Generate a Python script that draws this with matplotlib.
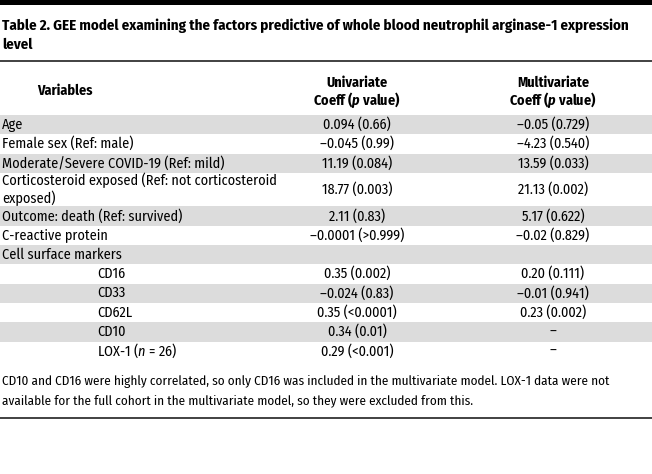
import matplotlib
matplotlib.use("Agg")
import matplotlib.pyplot as plt

W, H = 652, 474
FONT = "Fira Sans Condensed"

title_lines = [
    "Table 2. GEE model examining the factors predictive of whole blood neutrophil arginase-1 expression",
    "level",
]
header_var = "Variables"
header_uni = ["Univariate", "Coeff ($\\mathbfit{p}$ value)"]
header_multi = ["Multivariate", "Coeff ($\\mathbfit{p}$ value)"]

variables = [
    "Age",
    "Female sex (Ref: male)",
    "Moderate/Severe COVID-19 (Ref: mild)",
    "Corticosteroid exposed (Ref: not corticosteroid\nexposed)",
    "Outcome: death (Ref: survived)",
    "C-reactive protein",
    "Cell surface markers",
    "CD16",
    "CD33",
    "CD62L",
    "CD10",
    "LOX-1 ($\\mathit{n}$ = 26)",
]
indented = [False] * 7 + [True] * 5
univariate = [
    "0.094 (0.66)", "\u20130.045 (0.99)", "11.19 (0.084)", "18.77 (0.003)",
    "2.11 (0.83)", "\u20130.0001 (>0.999)", "", "0.35 (0.002)",
    "\u20130.024 (0.83)", "0.35 (<0.0001)", "0.34 (0.01)", "0.29 (<0.001)",
]
multivariate = [
    "\u20130.05 (0.729)", "\u20134.23 (0.540)", "13.59 (0.033)", "21.13 (0.002)",
    "5.17 (0.622)", "\u20130.02 (0.829)", "", "0.20 (0.111)",
    "\u20130.01 (0.941)", "0.23 (0.002)", "\u2013", "\u2013",
]
footnote = [
    "CD10 and CD16 were highly correlated, so only CD16 was included in the multivariate model. LOX-1 data were not",
    "available for the full cohort in the multivariate model, so they were excluded from this.",
]

plt.rcParams["font.family"] = [FONT, "DejaVu Sans"]
plt.rcParams["mathtext.fontset"] = "custom"
plt.rcParams["mathtext.rm"] = FONT
plt.rcParams["mathtext.it"] = f"{FONT}:italic"
plt.rcParams["mathtext.bf"] = f"{FONT}:bold"
plt.rcParams["mathtext.bfit"] = f"{FONT}:italic:bold"

fig = plt.figure(figsize=(W / 100, H / 100), dpi=100)
ax = fig.add_axes([0, 0, 1, 1])
ax.set_xlim(0, W)
ax.set_ylim(H, 0)
ax.axis("off")
renderer = fig.canvas.get_renderer()


def fit_size(text, width, **kw):
    t = ax.text(0, 0, text, fontsize=10, **kw)
    w = t.get_window_extent(renderer).width
    t.remove()
    return 10 * width / w


title_fs = fit_size(title_lines[0], 628, fontweight="bold")
body_fs = fit_size("Corticosteroid exposed (Ref: not corticosteroid", 273)
foot_fs = fit_size(footnote[0], 605)

# rules
ax.axhspan(0, 4.5, color="black", lw=0)
ax.axhline(61, color="#333333", lw=1.3)
ax.axhline(418, color="#333333", lw=1.3)

# title
for i, line in enumerate(title_lines):
    ax.text(2, 26 + i * 19, line, fontsize=title_fs, fontweight="bold", va="center", ha="left")

# header
x_var, x_uni, x_multi = 65, 357, 553
ax.text(x_var, 91, header_var, fontsize=body_fs, fontweight="bold", ha="center", va="center")
for i, (u, m) in enumerate(zip(header_uni, header_multi)):
    ax.text(x_uni, 83 + i * 17, u, fontsize=body_fs, fontweight="bold", ha="center", va="center")
    ax.text(x_multi, 83 + i * 17, m, fontsize=body_fs, fontweight="bold", ha="center", va="center")

# body
y = 115.0
row_h = 19.3
for i, (v, u, m) in enumerate(zip(variables, univariate, multivariate)):
    n_lines = v.count("\n") + 1
    h = row_h if n_lines == 1 else 33.5
    if i % 2 == 0:
        ax.axhspan(y, y + h, color="#dcdcdc", lw=0)
    yc = y + h / 2
    x0 = 97 if indented[i] else 2
    ax.text(x0, yc, v, fontsize=body_fs, ha="left", va="center", linespacing=1.2)
    ax.text(x_uni, yc, u, fontsize=body_fs, ha="center", va="center")
    ax.text(x_multi, yc, m, fontsize=body_fs, ha="center", va="center")
    y += h

for i, line in enumerate(footnote):
    ax.text(2, 381 + i * 19.5, line, fontsize=foot_fs, ha="left", va="center")

fig.savefig("out.png", dpi=100)
